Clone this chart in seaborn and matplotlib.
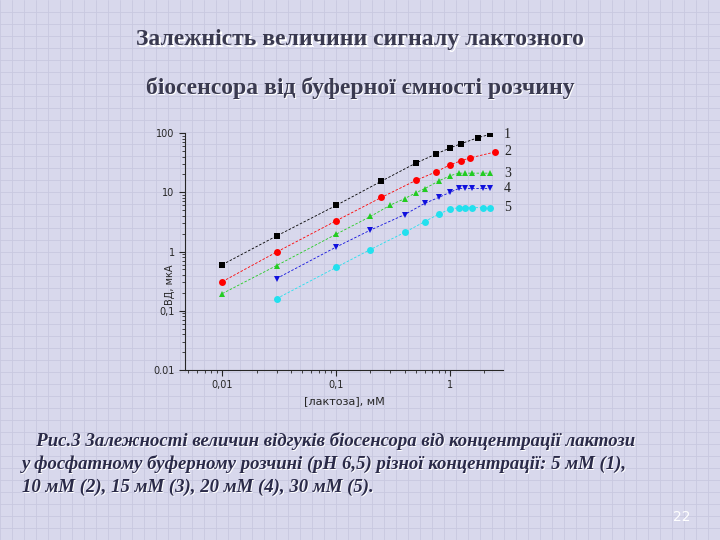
import matplotlib
matplotlib.use("Agg")
import matplotlib.pyplot as plt
import seaborn as sns
import numpy as np
from matplotlib.ticker import FixedLocator, FixedFormatter, LogLocator, NullFormatter

sns.set_style("ticks")

x1 = [0.01, 0.03, 0.1, 0.25, 0.5, 0.75, 1.0, 1.25, 1.75, 2.25]
y1 = [0.6, 1.83, 6.0, 15.4, 31, 44, 56, 66, 83, 95]
x2 = [0.01, 0.03, 0.1, 0.25, 0.5, 0.75, 1.0, 1.25, 1.5, 2.5]
y2 = [0.31, 0.98, 3.3, 8.2, 15.8, 22, 29, 34, 38, 48]
x3 = [0.01, 0.03, 0.1, 0.2, 0.3, 0.4, 0.5, 0.6, 0.8, 1.0, 1.2, 1.35, 1.55, 1.93, 2.24]
y3 = [0.195, 0.58, 1.96, 3.9, 6.1, 7.8, 9.8, 11.5, 15.6, 19, 21, 21, 21, 21, 21]
x4 = [0.03, 0.1, 0.2, 0.4, 0.6, 0.8, 1.0, 1.2, 1.35, 1.55, 1.93, 2.24]
y4 = [0.35, 1.19, 2.3, 4.2, 6.5, 8.2, 10, 11.6, 11.6, 11.6, 11.6, 11.6]
x5 = [0.03, 0.1, 0.2, 0.4, 0.6, 0.8, 1.0, 1.2, 1.35, 1.55, 1.93, 2.24]
y5 = [0.16, 0.54, 1.08, 2.1, 3.2, 4.3, 5.2, 5.5, 5.5, 5.5, 5.5, 5.5]
labels = ["1", "2", "3", "4", "5"]
xticks = [0.01, 0.1, 1]
xticklabels = ["0,01", "0,1", "1"]
yticks = [0.01, 0.1, 1, 10, 100]
yticklabels = ["0.01", "0,1", "1", "10", "100"]

fig = plt.figure(figsize=(7.2, 5.4), dpi=100)
bg = "#d8d8ec"
fig.patch.set_facecolor(bg)
bgax = fig.add_axes([0, 0, 1, 1], zorder=-10)
bgax.set_xlim(0, 720); bgax.set_ylim(0, 540)
for v in range(0, 720, 12):
    bgax.axvline(v, color="#c8c8e0", lw=0.6)
for h in range(0, 540, 12):
    bgax.axhline(h, color="#c8c8e0", lw=0.6)
bgax.axis("off")

ax = fig.add_axes([185/720, 1-370/540, 318/720, 237/540])
ax.set_facecolor("none")
series = [(x1, y1, "black", "s"), (x2, y2, "red", "o"), (x3, y3, "#22cc22", "^"),
          (x4, y4, "#1010dd", "v"), (x5, y5, "#22e0ee", "o")]
for (xs, ys, c, m), lab in zip(series, labels):
    sns.lineplot(x=xs, y=ys, ax=ax, color=c, marker=m, markersize=5, markeredgewidth=0,
                 lw=0.6, linestyle=(0, (3, 2)), legend=False)
    ax.text(2.92 * 1.02, ys[-1], lab, fontsize=10, family="Liberation Serif", va="center",
            color="#222222", clip_on=False)
ax.set_xscale("log"); ax.set_yscale("log")
ax.set_xlim(0.0047, 2.92); ax.set_ylim(0.01, 100)
ax.xaxis.set_major_locator(FixedLocator(xticks))
ax.xaxis.set_major_formatter(FixedFormatter(xticklabels))
ax.yaxis.set_major_locator(FixedLocator(yticks))
ax.yaxis.set_major_formatter(FixedFormatter(yticklabels))
for a in (ax.xaxis, ax.yaxis):
    a.set_minor_locator(LogLocator(subs=np.arange(2, 10)))
    a.set_minor_formatter(NullFormatter())
ax.tick_params(labelsize=7, length=4, width=0.8)
ax.tick_params(which="minor", length=2)
for s in ["top", "right"]:
    ax.spines[s].set_visible(False)
ax.set_xlabel("[лактоза], мМ", fontsize=8)
ax.set_ylabel("ВД, мкА", fontsize=7)
ax.yaxis.set_label_coords(-0.03, 0.36)

shadow = "#ffffff"
tc = "#3a3a50"
titles = [("Залежність величини сигналу лактозного", 40),
          ("біосенсора від буферної ємності розчину", 88)]
for t, yy in titles:
    fig.text(0.5 + 1.5/720, 1 - yy/540 - 1.5/540, t, ha="center", va="center", fontsize=17,
             family="Liberation Serif", weight="bold", color=shadow)
    fig.text(0.5, 1 - yy/540, t, ha="center", va="center", fontsize=17,
             family="Liberation Serif", weight="bold", color=tc)

cap = [("   Рис.3 Залежності величин відгуків біосенсора від концентрації лактози", 441),
       ("у фосфатному буферному розчині (рН 6,5) різної концентрації: 5 мМ (1),", 464),
       ("10 мМ (2), 15 мМ (3), 20 мМ (4), 30 мМ (5).", 487)]
for t, yy in cap:
    fig.text(22/720 + 1/720, 1 - yy/540 - 1/540, t, fontsize=13.5, family="Liberation Serif",
             style="italic", weight="bold", color="white", va="center")
    fig.text(22/720, 1 - yy/540, t, fontsize=13.5, family="Liberation Serif",
             style="italic", weight="bold", color="#2a2a48", va="center")
fig.text(690/720, 1 - 517/540, "22", fontsize=10, color="white", ha="right", va="center")

fig.savefig("out.png", dpi=100, facecolor=bg)
